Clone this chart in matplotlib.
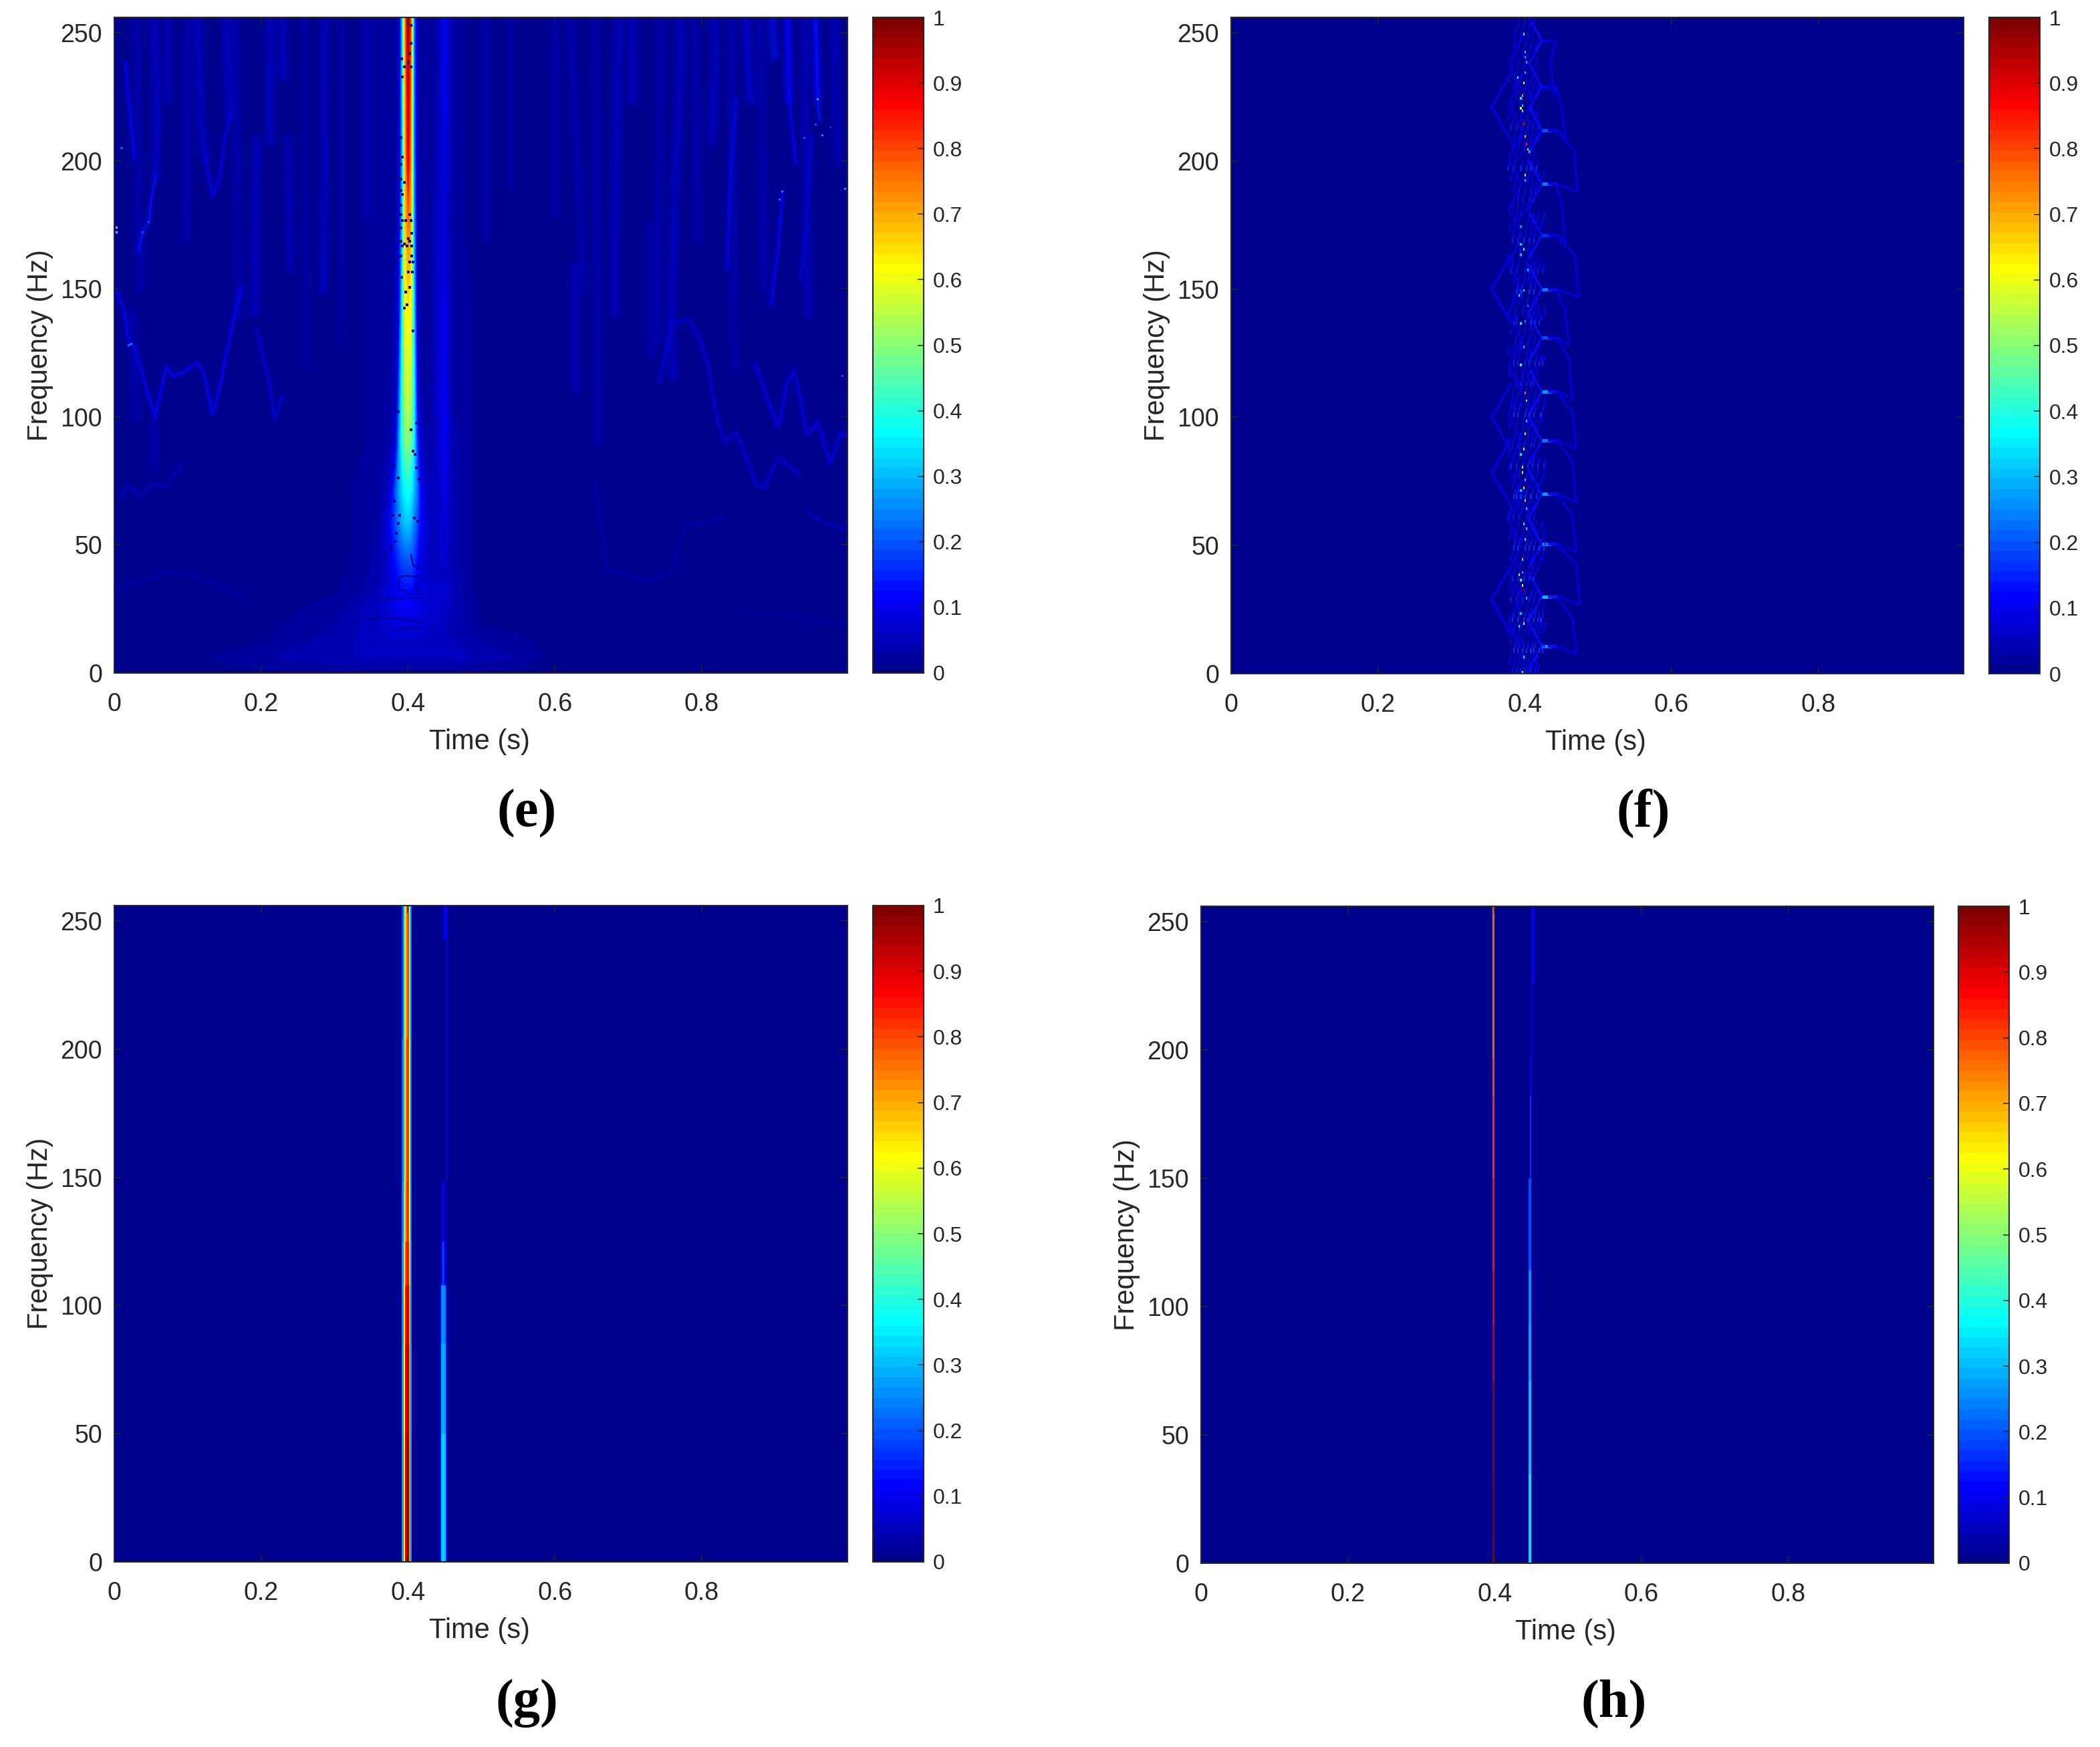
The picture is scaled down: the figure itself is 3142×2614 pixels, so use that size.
import numpy as np
import matplotlib
matplotlib.use("Agg")
import matplotlib.pyplot as plt
from matplotlib.colors import LinearSegmentedColormap, Normalize
from matplotlib.cm import ScalarMappable

W, H = 3142, 2614
T_END = 0.998

# ---- panel (e): read-off amplitude mesh
e_times = [0, .1, .2, .3, .34, .36, .37, .376, .38, .384, .388, .392, .396, .4, .404, .408,
           .412, .416, .42, .424, .43, .44, .45, .46, .48, .5, .55, .6, .7, .8, .998]
e_freqs = [0, 6, 12, 19, 25, 32, 38, 45, 58, 71, 90, 106, 141, 176, 200, 256]
e_vals = [
    [.005, .005, .01, .02, .02, .02, .02, .02, .02, .02, .02, .02, .02, .02, .02, .02, .02, .02, .02, .02, .02, .02, .02, .02, .02, .01, .01, .005, .005, .005, .005],
    [.01, .01, .03, .04, .05, .05, .05, .05, .05, .05, .05, .05, .05, .05, .05, .05, .05, .05, .05, .05, .05, .05, .05, .05, .05, .04, .03, .01, .005, .005, .005],
    [.01, .01, .015, .04, .05, .05, .06, .06, .06, .06, .06, .06, .06, .06, .06, .06, .06, .06, .06, .06, .05, .05, .05, .05, .04, .03, .02, .01, .01, .005, .005],
    [.01, .01, .01, .03, .05, .06, .07, .07, .08, .08, .08, .08, .08, .08, .08, .08, .08, .07, .07, .07, .06, .06, .05, .04, .03, .015, .01, .01, .01, .01, .01],
    [.01, .01, .01, .02, .05, .06, .07, .08, .09, .10, .10, .10, .11, .11, .11, .10, .10, .09, .08, .08, .07, .07, .06, .05, .03, .015, .01, .01, .01, .01, .01],
    [.01, .01, .01, .015, .03, .05, .07, .08, .09, .10, .11, .12, .12, .12, .12, .11, .10, .09, .08, .08, .07, .07, .07, .05, .02, .01, .01, .01, .01, .01, .01],
    [.01, .01, .01, .01, .025, .04, .06, .08, .10, .12, .14, .15, .16, .16, .16, .14, .11, .09, .08, .07, .06, .06, .06, .05, .02, .01, .01, .01, .01, .01, .01],
    [.01, .01, .01, .01, .02, .04, .06, .09, .12, .14, .17, .19, .20, .21, .20, .18, .13, .10, .08, .07, .06, .06, .07, .04, .02, .01, .01, .01, .01, .01, .01],
    [.01, .01, .01, .01, .02, .03, .07, .12, .16, .20, .24, .28, .30, .31, .29, .24, .19, .13, .10, .08, .05, .05, .08, .04, .02, .01, .01, .01, .01, .01, .01],
    [.01, .01, .01, .01, .02, .025, .04, .08, .14, .22, .28, .33, .37, .38, .36, .30, .24, .14, .09, .06, .05, .05, .10, .04, .02, .01, .01, .01, .01, .01, .01],
    [.01, .01, .01, .01, .015, .02, .03, .04, .05, .12, .27, .40, .48, .50, .47, .36, .18, .08, .05, .04, .03, .05, .11, .04, .02, .01, .01, .01, .01, .01, .01],
    [.01, .01, .01, .01, .015, .02, .02, .03, .04, .06, .22, .40, .53, .56, .52, .38, .14, .05, .03, .03, .03, .06, .11, .03, .02, .01, .01, .01, .01, .01, .01],
    [.01, .01, .01, .01, .015, .02, .02, .02, .03, .04, .12, .36, .60, .63, .60, .34, .08, .03, .02, .02, .02, .06, .10, .03, .02, .01, .01, .01, .01, .01, .01],
    [.01, .01, .01, .01, .015, .02, .02, .02, .02, .03, .08, .30, .66, .76, .70, .28, .06, .02, .02, .02, .02, .06, .08, .03, .015, .01, .01, .01, .01, .01, .01],
    [.01, .01, .01, .01, .015, .02, .02, .02, .02, .03, .05, .28, .68, .90, .72, .25, .05, .02, .02, .02, .02, .04, .09, .03, .015, .01, .01, .01, .01, .01, .01],
    [.01, .01, .01, .01, .015, .02, .02, .02, .02, .03, .05, .30, .72, .99, .78, .22, .05, .03, .02, .02, .02, .03, .11, .03, .015, .01, .01, .01, .01, .01, .01],
]

# faint wandering ridges of panel (e): time lists, freq lists, value
e_thin_t = [
    [.003, .014, .020, .027, .039, .055, .064, .071, .080, .091, .112, .121, .134, .143, .152, .167, .175],
    [.015, .023, .027],
    [.033, .039, .047, .050, .056],
    [.124, .134, .143, .152, .158],
    [.009, .018, .036, .052, .070, .091],
    [.002, .046, .085, .121, .182],
    [.194, .209, .219, .228],
    [.743, .758, .782, .797, .809, .822, .832, .847, .861, .873, .884, .904, .931],
    [.873, .888, .904, .916, .926, .934, .943, .958, .975, .989, .998],
    [.655, .670, .721, .758, .776, .806, .828],
    [.940, .964, .998],
    [.846, .904, .998],
    [.847, .840, .834],
    [.910, .904, .894],
    [.949, .942, .935],
    [.917, .919, .928],
    [.955, .958, .961],
]
e_thin_f = [
    [149, 141, 128.5, 127.7, 116, 100, 111, 120, 116, 117, 121, 118, 101, 111, 124, 144, 151],
    [238, 213.5, 201],
    [165, 172, 176, 184, 194],
    [201, 186, 193, 211, 218],
    [69, 73.5, 69, 74, 73, 81],
    [32.7, 37, 40, 37, 29],
    [134, 116, 99, 108],
    [114, 136, 138, 131, 119, 98, 90, 94, 84, 74, 72, 84, 78],
    [121, 108, 96, 113, 118, 108, 93, 98, 82, 93.5, 93],
    [74, 41, 36, 39, 58, 58.5, 61],
    [64, 59, 56],
    [24, 23, 19],
    [224, 199, 158],
    [188, 166, 144],
    [209, 174, 153.5],
    [254, 224, 199],
    [254, 224, 216],
]
e_thin_v = [.11, .12, .14, .10, .06, .04, .08, .08, .10, .04, .06, .03, .10, .11, .09, .11, .13]

e_broad_t = [
    [.073, .073], [.055, .058, .056], [.114, .117, .124], [.152, .158], [.212, .212],
    [.228, .231], [.287, .287, .285], [.191, .194], [.237, .240], [.055, .055],
    [.506, .506], [.54, .54], [.627, .629], [.682, .682, .687], [.705, .705], [.73, .73],
    [.77, .772, .764, .758, .761], [.817, .819, .813], [.861, .863, .867], [.896, .899],
    [.917, .919], [.955, .958], [.6, .6], [.34, .34],
    [.03, .035], [.1, .098], [.165, .17], [.26, .262], [.31, .308], [.025, .03],
    [.62, .64], [.655, .66], [.745, .74], [.79, .795], [.84, .845], [.88, .885], [.94, .945], [.98, .985],
]
e_broad_f = [
    [256, 224], [256, 216, 194], [256, 216, 201], [256, 218], [256, 208],
    [256, 233], [256, 208, 149], [141, 208], [208, 158], [99, 81],
    [256, 170], [256, 190], [158, 111], [141, 174, 256], [256, 224], [174, 124],
    [256, 241, 191, 133, 116], [256, 238, 208], [256, 238, 224], [256, 241],
    [256, 224], [256, 224], [256, 180], [256, 180],
    [256, 150], [256, 170], [256, 140], [256, 120], [256, 130], [140, 100],
    [256, 150], [256, 90], [256, 130], [256, 170], [256, 120], [256, 150], [256, 140], [256, 200],
]
e_broad_v = [.07, .09, .08, .08, .08, .09, .08, .08, .07, .05, .05, .04, .07, .08, .09, .06,
             .09, .09, .10, .13, .12, .12, .05, .05,
             .05, .05, .05, .04, .04, .05, .05, .05, .05, .05, .06, .06, .07, .07]

e_spot_t = [.003, .003, .010, .023, .020, .039, .047, .995, .958, .964, .910, .906, .940, .975, .955, .992]
e_spot_f = [174, 172, 205, 128.5, 128, 172, 176, 189, 224, 210, 188, 185, 209, 213, 214, 116]
e_spot_v = [.4, .35, .2, .25, .22, .2, .2, .28, .3, .26, .25, .22, .2, .16, .2, .2]

# dark holes along the ridge of (e)
e_hole_t = [.4039, .4039, .4024, .3918, .4009, .3948, .4039, .3927, .3903, .3927, .3903, .3903, .3948, .3903, .3927,
            .3903, .3903, .4024, .3927, .3970, .4039, .3903, .4048, .3903, .4009, .4024, .3948, .3927, .3988, .4048,
            .3903, .4048, .4024, .4070, .4009, .4055, .3918, .4024, .3970, .3988, .3948, .4070,
            .3827, .3872, .4115, .4039, .3812, .4070, .4100, .3812, .4115, .3872, .4146, .3812, .3797, .3888, .3872, .4085,
            .4130, .3842, .3827, .3781]
e_hole_f = [252.9, 245.9, 242, 239.8, 238.5, 236.8, 236.8, 232.9, 208.9, 201.5, 198.5, 192.8, 191.5, 188.5, 186.8,
            182.8, 178.9, 178.9, 176.7, 176.7, 176.7, 173.7, 171.7, 168.7, 169.6, 168.7, 167.6, 166.7, 166.7, 166.7,
            162.8, 162.8, 160.6, 160.6, 156.7, 156.7, 154.5, 150.6, 148.7, 143.7, 142.6, 133.7,
            103.7, 102, 97.6, 95, 91.5, 86.7, 85.4, 81, 80.2, 76.3, 75.8, 67.1, 61.5, 61.5, 58.4, 60.6,
            59.3, 54.5, 51.5, 49.3]
e_loop_t = [
    [.3872, .3933, .4191], [.3872, .3888, .4024, .4115], [.4115, .4100, .4206], [.4039, .4070, .4161],
    [.3630, .4206], [.3417, .3963], [.3842, .4176], [.3963, .4206], [.3781, .3690, .3599],
]
e_loop_f = [
    [36.7, 38, 37.5], [35.8, 32.8, 31, 30.6], [35.4, 33.2, 31], [46.2, 41.9, 40.6],
    [28.8, 29.3], [21.4, 21.4], [17.5, 17.5], [20.6, 20.1], [49.3, 45, 41],
]

# ---- panel (f): isolated bright cells
f_spot_t = [.3983, .4004, .4004, .4019, .4004, .3904, .3983, .3959, .3943, .3959, .3943, .3959, .3983, .4004, .4019,
            .4041, .4059, .4004, .4004, .3953, .3953, .3983, .3943, .3995, .3928, .4044, .4050, .3943, .4004,
            .3983, .3943, .4004, .4019, .4019, .4004, .3983, .3943, .3959, .3959, .4004, .3983, .3943, .4004, .4019,
            .3983, .4019, .4004, .3983, .3959, .3922, .3959, .3943, .3959, .3983, .4019, .3943, .3983, .3928, .3983, .3959]
f_spot_f = [249.4, 242.3, 240.1, 238, 234.9, 232, 230.1, 225, 224, 221.9, 220.1, 219, 214, 209, 206,
            204, 203, 194, 192.3, 174, 167.9, 165.3, 163.1, 149.2, 147.9, 157.5, 143.1, 136, 137.9,
            127.4, 120, 109.3, 106.8, 98.2, 93.9, 87.8, 85.6, 80.8, 78.2, 75.9, 72.5, 71.8, 67.8, 64.3,
            58.6, 56.7, 52.7, 45.6, 44.7, 38.8, 39.6, 36.9, 34.7, 32.5, 29, 23.8, 19, 18.2, 6.2, .7]
f_spot_v = [.4, .3, .3, .3, .35, .4, .55, .72, .35, .3, .55, .45, .9, .7, .85,
            .5, .35, .5, .3, .25, .35, .45, .3, .4, .35, .3, .25, .35, .25,
            .3, .4, .75, .5, .3, .65, .65, .35, .55, .55, .3, .65, .3, .7, .3,
            .35, .35, .35, 1.0, .4, .45, .3, .4, .6, .98, .3, .3, .6, .35, .35, .55]

# right-hand tips, how far each outer arc reaches, and left-hand points of the lattice in (f)
f_right_tips = [10.7, 30, 50.6, 70, 91, 110, 131, 150, 171, 191, 212, 229, 247]
f_tip_v = [.26, .3, .26, .28, .24, .28, .2, .24, .16, .24, .2, .1, .1]
f_arc_reach = [.470, .475, .470, .470, .470, .465, .460, .4735, .455, .4718, .455, .440, .440]
f_left_tips = [221, 150, 100, 78.6, 28.7]
f_left_inner = [20, 40, 60, 80, 101, 120, 141, 160, 181, 201, 222, 238]

# speckle columns (offset from the column at 0.4 s) for rows every 4 Hz, bottom to top
f_haze_cols = [
    [-9, -6, -3, 0, 2, 4, 7, 9], [-11, -7, -4, -1, 3, 5, 8], [-8, -5, -2, 1, 4, 6, 10, 12], [-10, -6, -3, 2, 5, 9],
    [-12, -8, -4, 0, 3, 7, 10, 13], [-9, -5, -1, 2, 6, 9, 11], [-7, -4, 1, 4, 8, 12], [-10, -6, -2, 3, 6, 10],
    [-11, -8, -3, 0, 5, 8], [-9, -5, -1, 3, 6], [-7, -4, 2, 5, 9], [-10, -6, -2, 1, 4, 7, 11], [-8, -5, 0, 3, 6, 10, 13],
    [-11, -7, -3, 2, 5, 8, 12], [-9, -6, -1, 4, 7, 11], [-12, -8, -4, 1, 3, 6], [-10, -5, -2, 2, 5],
    [-8, -6, -3, 0, 4, 8], [-9, -4, -1, 3, 6, 10], [-7, -5, 1, 4, 8, 12], [-10, -6, -2, 2, 5, 9, 13],
    [-12, -8, -4, 0, 3, 7], [-9, -5, -1, 4, 6], [-7, -3, 2, 5, 8], [-11, -6, -2, 1, 4, 7, 10], [-8, -5, 0, 3, 6, 11],
    [-10, -7, -3, 2, 5, 9, 13], [-9, -4, -1, 3, 7], [-6, -3, 1, 4, 6], [-11, -7, -2, 2, 5, 8], [-8, -5, 0, 3, 7, 10, 12],
    [-12, -9, -4, 1, 4, 9], [-7, -3, 2, 6], [-10, -5, -1, 3, 5], [-8, -6, 0, 4, 7, 10], [-11, -7, -2, 2, 6, 9, 13],
    [-9, -4, 1, 5, 8], [-6, -3, 3, 6], [-8, -5, -1, 2, 4, 7], [-10, -6, 0, 3, 6, 9, 12], [-13, -9, -4, 1, 5, 8],
    [-7, -3, 2, 4], [-9, -5, -1, 3, 6], [-11, -8, 0, 4, 7, 10], [-7, -4, 2, 5, 8, 12], [-9, -6, -2, 1, 3],
    [-5, -2, 3, 6], [-8, -4, 0, 4, 7, 10], [-10, -6, -1, 2, 5, 9, 12], [-12, -8, -3, 1, 4, 8], [-7, -4, 2, 6],
    [-9, -5, -1, 3, 5], [-8, -3, 0, 4, 7, 10], [-10, -6, -2, 2, 5, 9], [-12, -7, -3, 1, 6, 8], [-9, -4, 3, 5],
    [-6, -2, 2, 4, 7], [-8, -5, 0, 3, 6, 9], [-7, -3, 1, 5, 8], [-9, -5, -1, 3, 7], [-6, -2, 2, 6],
    [-8, -4, 0, 4, 8], [-7, -3, 2, 5], [-5, -1, 3, 6],
]
f_haze_v = [.14, .10, .16, .09, .12, .17, .10, .14, .09, .15, .11, .10, .17, .12, .09, .14,
            .11, .16, .10, .12, .15, .09, .14, .11, .10, .16, .12, .09, .14, .11, .15, .10,
            .12, .09, .15, .11, .10, .16, .12, .14, .09, .11, .15, .10, .12, .09, .14, .11,
            .10, .15, .09, .12, .11, .14, .10, .09, .12, .11, .10, .09, .11, .10, .09, .11]

# ---- panel (g): flat cells between read-off edges
g_time_edges = [0, .3918, .3939, .3957, .3975, .3993, .4012, .4030, .4054, .4434, .4455, .4473, .4491, .4510, .4534, T_END]
g_freq_edges = [0, 50, 85, 108, 125, 148, 204, 243, 256]
g_vals = [
    [0, .28, .62, .88, .95, .98, .72, .25, 0, .12, .30, .33, .30, .12, 0],
    [0, .28, .60, .88, .92, .95, .72, .25, 0, .10, .27, .30, .27, .10, 0],
    [0, .26, .58, .85, .90, .92, .70, .24, 0, .08, .24, .27, .24, .08, 0],
    [0, .25, .52, .78, .85, .85, .65, .24, 0, 0, .12, .20, .12, 0, 0],
    [0, .24, .45, .70, .82, .82, .62, .22, 0, 0, .05, .10, .05, 0, 0],
    [0, .22, .40, .68, .80, .82, .60, .22, 0, 0, 0, 0, 0, .08, 0],
    [0, .20, .38, .65, .78, .80, .52, .22, 0, 0, 0, 0, 0, .09, 0],
    [0, .20, .38, .65, .78, .80, .50, .22, 0, 0, 0, 0, .10, .10, 0],
]

# ---- panel (h)
h_time_edges = [0, .3974, .3993, .4463, .4483, .4502, .4520, .4542, T_END]
h_freq_edges = [0, 35, 71, 93, 114, 150, 182, 197, 226, 256]
h_vals = [
    [0, 1.0, 0, .34, .34, 0, 0, 0],
    [0, .98, 0, .31, .31, 0, 0, 0],
    [0, .93, 0, .28, .28, 0, 0, 0],
    [0, .89, 0, .25, .25, 0, 0, 0],
    [0, .85, 0, .20, .20, 0, 0, 0],
    [0, .82, 0, 0, .17, 0, 0, 0],
    [0, .80, 0, 0, .12, 0, 0, 0],
    [0, .78, 0, 0, 0, .08, 0, 0],
    [0, .78, 0, 0, 0, .10, .10, 0],
]

x_ticks = [0, .2, .4, .6, .8]
x_labels = ["0", "0.2", "0.4", "0.6", "0.8"]
y_ticks = [0, 50, 100, 150, 200, 250]
cb_ticks = [0, .1, .2, .3, .4, .5, .6, .7, .8, .9, 1]
cb_labels = ["0", "0.1", "0.2", "0.3", "0.4", "0.5", "0.6", "0.7", "0.8", "0.9", "1"]

INK = "#262626"
plt.rcParams["font.family"] = ["Liberation Sans", "DejaVu Sans"]

# MATLAB style jet with 64 steps
jet = LinearSegmentedColormap.from_list(
    "jet64",
    [(0, (0, 0, .5625)), (.111, (0, 0, 1)), (.365, (0, 1, 1)),
     (.619, (1, 1, 0)), (.873, (1, 0, 0)), (1, (.5, 0, 0))], N=64)
norm = Normalize(0, 1)


def px_axes(fig, left, top, right, bottom):
    return fig.add_axes([left / W, 1 - bottom / H, (right - left) / W, (bottom - top) / H])


def style_axes(ax):
    ax.set_xlim(0, T_END)
    ax.set_ylim(0, 256)
    ax.set_xticks(x_ticks, x_labels)
    ax.set_yticks(y_ticks)
    ax.tick_params(axis="both", direction="in", length=8, width=1.1, top=True, right=True,
                   labelsize=27, colors=INK)
    ax.tick_params(axis="x", pad=21)
    ax.tick_params(axis="y", pad=13)
    for s in ax.spines.values():
        s.set_linewidth(1.5)
        s.set_color(INK)
        s.set_zorder(10)
    ax.set_xlabel("Time (s)", fontsize=30, color=INK, va="center")
    ax.set_ylabel("Frequency (Hz)", fontsize=30, color=INK, va="center")
    ax.xaxis.set_label_coords(.498, -.1045)
    ax.yaxis.set_label_coords(-.1015, .5)


def add_colorbar(fig, left, top, right, bottom):
    cax = px_axes(fig, left, top, right, bottom)
    cb = fig.colorbar(ScalarMappable(norm=norm, cmap=jet), cax=cax)
    cb.set_ticks(cb_ticks, labels=cb_labels)
    cb.ax.tick_params(direction="in", length=6.5, width=1.1, labelsize=23, colors=INK, pad=10)
    cb.ax.minorticks_off()
    cb.outline.set_linewidth(1.5)
    cb.outline.set_edgecolor(INK)


def draw_e(ax):
    ax.contourf(e_times, e_freqs, e_vals, levels=np.linspace(0, 1, 65), cmap=jet, norm=norm, extend="both")
    for ts, fs, v in zip(e_broad_t, e_broad_f, e_broad_v):
        # nested widths so the streak has a soft cross section
        for lw, a in [(15, .15), (9, .25), (4, .3)]:
            ax.plot(ts, fs, color=jet(norm(v)), lw=lw, alpha=a, solid_capstyle="round", zorder=2)
    for ts, fs, v in zip(e_thin_t, e_thin_f, e_thin_v):
        ax.plot(ts, fs, color=jet(norm(v)), lw=7, alpha=.2, zorder=3)
        ax.plot(ts, fs, color=jet(norm(v)), lw=2, alpha=.8, zorder=3)
    ax.scatter(e_spot_t, e_spot_f, c=e_spot_v, cmap=jet, norm=norm, s=5, marker="s", linewidths=0, zorder=4)
    ax.scatter(e_hole_t, e_hole_f, color=jet(0), s=5, marker="s", linewidths=0, zorder=4)
    for ts, fs in zip(e_loop_t, e_loop_f):
        ax.plot(ts, fs, color=jet(0), lw=1.5, zorder=4)


def draw_f(ax):
    ax.set_facecolor(jet(0))
    # lattice
    for k, (fr, v, reach) in enumerate(zip(f_right_tips, f_tip_v, f_arc_reach)):
        ax.plot([.4232, .4330], [fr, fr], color=jet(norm(v)), lw=3.5, zorder=2)
        ax.plot([.4330, .4444], [fr, fr], color=jet(norm(v * .5)), lw=3, zorder=2)
        ax.plot([.4060, .4232, .4060], [fr + 9, fr, fr - 9], color=jet(norm(.14)), lw=2, zorder=2)
        if k + 1 < len(f_right_tips):
            nxt = f_right_tips[k + 1]
            ax.plot([.4444, reach, reach - .005, .4430], [fr, fr - 3, nxt - 8, nxt],
                    color=jet(norm(.08)), lw=2, zorder=2)
    for fl in f_left_tips:
        ax.plot([.3807, .3549, .3807], [fl + 13, fl, fl - 13], color=jet(norm(.1)), lw=2, zorder=2)
    for fl in f_left_inner:
        ax.plot([.3950, .3780, .3950], [fl + 10, fl, fl - 10], color=jet(norm(.08)), lw=1.6, zorder=2)
    # sparse 512 x 256 cell grid
    grid = np.zeros((256, 513))
    col0 = int(round(.4 * 513))
    for row, (cols, v) in enumerate(zip(f_haze_cols, f_haze_v)):
        for c in cols:
            grid[row * 4:row * 4 + 2, col0 + c] = v
            grid[row * 4 + 2:row * 4 + 4, col0 + c + 1] = v * .8
    for t, fr, v in zip(f_spot_t, f_spot_f, f_spot_v):
        grid[int(fr), int(t * 513)] = v
    ax.imshow(np.ma.masked_equal(grid, 0), origin="lower", extent=[0, 1, 0, 256], aspect="auto",
              cmap=jet, norm=norm, interpolation="nearest", zorder=3)


def draw_flat(ax, t_edges, f_edges, vals):
    ax.pcolormesh(t_edges, f_edges, vals, cmap=jet, norm=norm, shading="flat")


fig = plt.figure(figsize=(W / 100, H / 100), dpi=100, facecolor="white")

ax_e = px_axes(fig, 171, 26, 1267.5, 1007)
draw_e(ax_e)
style_axes(ax_e)
add_colorbar(fig, 1306, 26, 1382, 1007)

ax_f = px_axes(fig, 1842, 26, 2938, 1008)
draw_f(ax_f)
style_axes(ax_f)
add_colorbar(fig, 2976, 26, 3052, 1008)

ax_g = px_axes(fig, 171, 1355, 1267.5, 2337)
draw_flat(ax_g, g_time_edges, g_freq_edges, g_vals)
style_axes(ax_g)
add_colorbar(fig, 1306, 1355, 1382, 2337)

ax_h = px_axes(fig, 1797, 1356, 2893, 2339)
draw_flat(ax_h, h_time_edges, h_freq_edges, h_vals)
style_axes(ax_h)
add_colorbar(fig, 2930, 1356, 3006, 2339)

for label, x, y in [("(e)", 788, 1217), ("(f)", 2459, 1217), ("(g)", 788, 2549), ("(h)", 2415, 2549)]:
    fig.text(x / W, 1 - y / H, label, fontsize=58, fontweight="bold", family="Liberation Serif",
             color="black", ha="center", va="center")

fig.savefig("out.png", dpi=100)
